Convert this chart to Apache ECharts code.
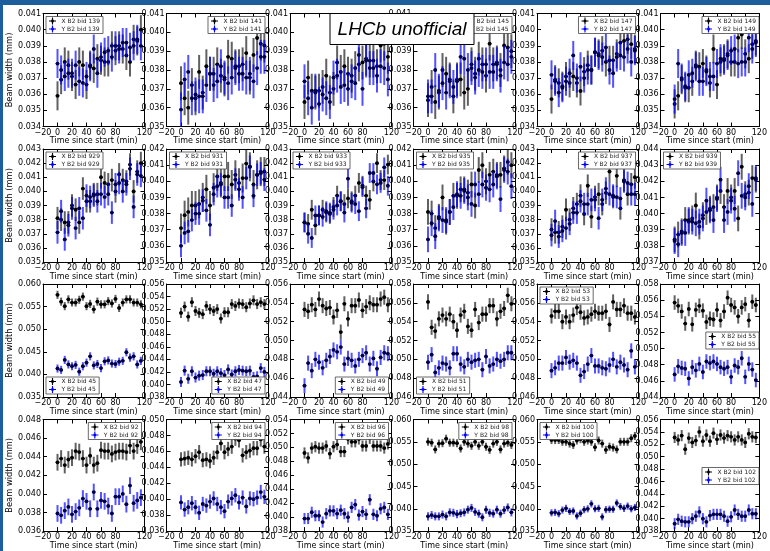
<!DOCTYPE html>
<html>
<head>
<meta charset="utf-8">
<script src="https://cdn.jsdelivr.net/npm/echarts@6/dist/echarts.min.js"></script>
<style>
  html, body { margin: 0; padding: 0; background: #fff; }
  #chart { width: 770px; height: 551px; }
</style>
</head>
<body>
<div id="chart"></div>
<script>
// Time bins (min) shared by every bunch
const times = [0, 5, 10, 15, 20, 25, 30, 35, 40, 45, 50, 55, 60, 65, 70, 75, 80, 85, 90, 95, 100, 105, 110, 115];
const xTicks = [-20, 0, 20, 40, 60, 80, 100, 120];

// Bunch ids, one panel each (rows of six)
const bids = [139, 141, 143, 145, 147, 149,
              929, 931, 933, 935, 937, 939,
              45, 47, 49, 51, 53, 55,
              92, 94, 96, 98, 100, 102];

// Beam widths (mm), X and Y planes
const x139 = [0.0359,0.0369,0.0380,0.0378,0.0371,0.0366,0.0380,0.0378,0.0366,0.0378,0.0376,0.0382,0.0381,0.0380,0.0380,0.0390,0.0387,0.0390,0.0388,0.0384,0.0380,0.0394,0.0393,0.0400];
const y139 = [0.0379,0.0375,0.0371,0.0373,0.0373,0.0378,0.0368,0.0367,0.0371,0.0377,0.0388,0.0373,0.0383,0.0386,0.0387,0.0383,0.0390,0.0388,0.0392,0.0392,0.0389,0.0390,0.0394,0.0390];
const x141 = [0.0373,0.0365,0.0360,0.0372,0.0365,0.0379,0.0368,0.0382,0.0378,0.0378,0.0383,0.0377,0.0375,0.0387,0.0386,0.0382,0.0382,0.0383,0.0389,0.0376,0.0388,0.0397,0.0394,0.0393];
const y141 = [0.0359,0.0375,0.0379,0.0365,0.0367,0.0366,0.0366,0.0372,0.0378,0.0372,0.0374,0.0382,0.0376,0.0373,0.0376,0.0381,0.0378,0.0378,0.0376,0.0378,0.0374,0.0381,0.0387,0.0387];
const x143 = [0.0363,0.0376,0.0369,0.0368,0.0369,0.0371,0.0377,0.0368,0.0370,0.0384,0.0379,0.0382,0.0378,0.0377,0.0381,0.0383,0.0384,0.0386,0.0385,0.0385,0.0382,0.0393,0.0394,0.0387];
const y143 = [0.0374,0.0365,0.0360,0.0369,0.0362,0.0367,0.0365,0.0363,0.0376,0.0377,0.0371,0.0372,0.0370,0.0374,0.0373,0.0388,0.0370,0.0385,0.0381,0.0381,0.0377,0.0382,0.0381,0.0375];
const x145 = [0.0364,0.0371,0.0363,0.0368,0.0380,0.0378,0.0375,0.0366,0.0375,0.0375,0.0368,0.0370,0.0383,0.0378,0.0386,0.0383,0.0377,0.0394,0.0383,0.0384,0.0380,0.0393,0.0392,0.0390];
const y145 = [0.0366,0.0366,0.0380,0.0369,0.0373,0.0368,0.0374,0.0371,0.0374,0.0387,0.0386,0.0380,0.0381,0.0376,0.0380,0.0379,0.0383,0.0379,0.0379,0.0383,0.0377,0.0384,0.0383,0.0387];
const x147 = [0.0357,0.0369,0.0367,0.0365,0.0371,0.0367,0.0371,0.0367,0.0362,0.0374,0.0378,0.0375,0.0386,0.0385,0.0387,0.0380,0.0381,0.0381,0.0385,0.0392,0.0393,0.0394,0.0391,0.0388];
const y147 = [0.0372,0.0368,0.0361,0.0364,0.0368,0.0373,0.0384,0.0370,0.0377,0.0370,0.0375,0.0375,0.0386,0.0384,0.0383,0.0389,0.0375,0.0373,0.0383,0.0384,0.0383,0.0388,0.0380,0.0387];
const x149 = [0.0354,0.0359,0.0369,0.0364,0.0364,0.0368,0.0378,0.0377,0.0379,0.0375,0.0367,0.0388,0.0366,0.0380,0.0382,0.0385,0.0380,0.0380,0.0395,0.0397,0.0385,0.0382,0.0391,0.0393];
const y149 = [0.0357,0.0379,0.0370,0.0365,0.0372,0.0373,0.0377,0.0368,0.0368,0.0374,0.0371,0.0371,0.0379,0.0382,0.0381,0.0384,0.0387,0.0388,0.0379,0.0380,0.0380,0.0395,0.0388,0.0392];

const x929 = [0.0381,0.0380,0.0378,0.0378,0.0390,0.0387,0.0378,0.0402,0.0393,0.0393,0.0398,0.0398,0.0410,0.0406,0.0405,0.0408,0.0400,0.0412,0.0408,0.0407,0.0419,0.0400,0.0414,0.0420];
const y929 = [0.0371,0.0386,0.0366,0.0376,0.0388,0.0374,0.0388,0.0381,0.0397,0.0396,0.0397,0.0393,0.0398,0.0396,0.0398,0.0385,0.0405,0.0406,0.0400,0.0405,0.0416,0.0389,0.0412,0.0411];
const x931 = [0.0371,0.0379,0.0381,0.0385,0.0385,0.0386,0.0390,0.0395,0.0385,0.0396,0.0403,0.0399,0.0403,0.0403,0.0398,0.0404,0.0399,0.0402,0.0411,0.0409,0.0398,0.0404,0.0406,0.0406];
const y931 = [0.0360,0.0368,0.0369,0.0376,0.0380,0.0380,0.0388,0.0382,0.0373,0.0392,0.0397,0.0398,0.0390,0.0390,0.0385,0.0401,0.0395,0.0390,0.0402,0.0409,0.0391,0.0404,0.0405,0.0401];
const x933 = [0.0378,0.0377,0.0387,0.0376,0.0383,0.0387,0.0385,0.0384,0.0389,0.0397,0.0393,0.0391,0.0395,0.0393,0.0397,0.0406,0.0404,0.0397,0.0394,0.0407,0.0420,0.0408,0.0408,0.0419];
const y933 = [0.0378,0.0370,0.0367,0.0383,0.0383,0.0382,0.0386,0.0385,0.0387,0.0390,0.0393,0.0385,0.0409,0.0392,0.0391,0.0386,0.0403,0.0388,0.0413,0.0413,0.0405,0.0406,0.0417,0.0404];
const x935 = [0.0381,0.0380,0.0371,0.0378,0.0390,0.0375,0.0381,0.0391,0.0391,0.0395,0.0395,0.0393,0.0398,0.0385,0.0407,0.0410,0.0400,0.0404,0.0406,0.0404,0.0404,0.0408,0.0412,0.0410];
const y935 = [0.0364,0.0374,0.0366,0.0377,0.0376,0.0376,0.0381,0.0384,0.0392,0.0391,0.0394,0.0390,0.0386,0.0398,0.0392,0.0398,0.0396,0.0395,0.0398,0.0403,0.0389,0.0407,0.0406,0.0397];
const x937 = [0.0373,0.0371,0.0371,0.0375,0.0387,0.0380,0.0388,0.0391,0.0397,0.0384,0.0404,0.0382,0.0396,0.0398,0.0391,0.0399,0.0414,0.0396,0.0411,0.0388,0.0408,0.0398,0.0405,0.0410];
const y937 = [0.0369,0.0379,0.0368,0.0372,0.0374,0.0377,0.0385,0.0385,0.0393,0.0391,0.0391,0.0394,0.0394,0.0381,0.0394,0.0402,0.0398,0.0397,0.0396,0.0395,0.0407,0.0406,0.0398,0.0398];
const x939 = [0.0384,0.0387,0.0389,0.0396,0.0395,0.0397,0.0405,0.0392,0.0399,0.0401,0.0403,0.0404,0.0410,0.0414,0.0404,0.0414,0.0410,0.0414,0.0397,0.0429,0.0412,0.0413,0.0422,0.0421];
const y939 = [0.0383,0.0381,0.0388,0.0388,0.0396,0.0395,0.0394,0.0395,0.0397,0.0408,0.0402,0.0396,0.0409,0.0421,0.0396,0.0401,0.0408,0.0403,0.0425,0.0411,0.0410,0.0417,0.0406,0.0422];

const x45 = [0.0576,0.0561,0.0551,0.0566,0.0559,0.0559,0.0565,0.0572,0.0551,0.0556,0.0544,0.0561,0.0555,0.0555,0.0562,0.0557,0.0567,0.0547,0.0559,0.0566,0.0566,0.0559,0.0559,0.0555];
const y45 = [0.0413,0.0410,0.0432,0.0422,0.0418,0.0421,0.0406,0.0418,0.0426,0.0440,0.0420,0.0423,0.0414,0.0429,0.0431,0.0424,0.0423,0.0428,0.0430,0.0449,0.0437,0.0440,0.0422,0.0430];
const x47 = [0.0514,0.0524,0.0508,0.0531,0.0517,0.0514,0.0512,0.0525,0.0520,0.0517,0.0520,0.0505,0.0515,0.0515,0.0528,0.0525,0.0529,0.0528,0.0523,0.0529,0.0534,0.0528,0.0531,0.0528];
const y47 = [0.0404,0.0422,0.0409,0.0421,0.0411,0.0414,0.0415,0.0421,0.0421,0.0417,0.0421,0.0418,0.0415,0.0424,0.0416,0.0421,0.0423,0.0422,0.0421,0.0422,0.0412,0.0413,0.0426,0.0420];
const x49 = [0.0533,0.0531,0.0538,0.0533,0.0544,0.0537,0.0534,0.0535,0.0525,0.0532,0.0509,0.0539,0.0523,0.0537,0.0537,0.0543,0.0532,0.0536,0.0540,0.0538,0.0538,0.0544,0.0546,0.0538];
const y49 = [0.0452,0.0476,0.0468,0.0480,0.0477,0.0471,0.0479,0.0483,0.0490,0.0488,0.0493,0.0475,0.0481,0.0479,0.0473,0.0480,0.0484,0.0487,0.0475,0.0481,0.0470,0.0482,0.0487,0.0486];
const x51 = [0.0561,0.0534,0.0530,0.0543,0.0547,0.0543,0.0548,0.0540,0.0531,0.0547,0.0551,0.0535,0.0531,0.0553,0.0539,0.0548,0.0548,0.0557,0.0557,0.0543,0.0551,0.0554,0.0568,0.0559];
const y51 = [0.0497,0.0505,0.0486,0.0491,0.0496,0.0495,0.0491,0.0506,0.0506,0.0495,0.0492,0.0500,0.0497,0.0499,0.0500,0.0489,0.0503,0.0493,0.0495,0.0500,0.0498,0.0500,0.0507,0.0507];
const x53 = [0.0546,0.0551,0.0551,0.0540,0.0545,0.0540,0.0547,0.0555,0.0550,0.0544,0.0545,0.0548,0.0551,0.0549,0.0549,0.0551,0.0537,0.0561,0.0553,0.0553,0.0557,0.0549,0.0549,0.0545];
const y53 = [0.0488,0.0491,0.0496,0.0496,0.0502,0.0497,0.0499,0.0496,0.0483,0.0487,0.0495,0.0504,0.0493,0.0493,0.0491,0.0490,0.0494,0.0500,0.0492,0.0497,0.0494,0.0489,0.0509,0.0492];
const x55 = [0.0557,0.0553,0.0546,0.0531,0.0549,0.0530,0.0548,0.0553,0.0547,0.0533,0.0537,0.0536,0.0548,0.0535,0.0546,0.0563,0.0554,0.0551,0.0540,0.0551,0.0555,0.0535,0.0558,0.0554];
const y55 = [0.0468,0.0478,0.0476,0.0475,0.0463,0.0477,0.0473,0.0481,0.0471,0.0484,0.0482,0.0484,0.0481,0.0477,0.0475,0.0477,0.0465,0.0479,0.0477,0.0488,0.0465,0.0481,0.0474,0.0461];

const x92 = [0.0434,0.0438,0.0431,0.0437,0.0439,0.0446,0.0445,0.0438,0.0431,0.0441,0.0431,0.0433,0.0447,0.0446,0.0446,0.0443,0.0445,0.0446,0.0446,0.0445,0.0452,0.0446,0.0452,0.0456];
const y92 = [0.0379,0.0377,0.0382,0.0386,0.0378,0.0381,0.0385,0.0395,0.0392,0.0384,0.0402,0.0384,0.0393,0.0392,0.0387,0.0379,0.0397,0.0397,0.0400,0.0389,0.0409,0.0390,0.0393,0.0396];
const x94 = [0.0450,0.0451,0.0452,0.0450,0.0454,0.0459,0.0449,0.0450,0.0448,0.0452,0.0459,0.0470,0.0459,0.0463,0.0466,0.0476,0.0474,0.0455,0.0459,0.0461,0.0464,0.0464,0.0475,0.0466];
const y94 = [0.0396,0.0387,0.0390,0.0395,0.0390,0.0383,0.0394,0.0392,0.0397,0.0401,0.0394,0.0390,0.0385,0.0397,0.0401,0.0405,0.0396,0.0402,0.0391,0.0401,0.0400,0.0402,0.0409,0.0403];
const x96 = [0.0492,0.0485,0.0499,0.0501,0.0499,0.0499,0.0502,0.0491,0.0501,0.0504,0.0494,0.0494,0.0512,0.0508,0.0508,0.0512,0.0502,0.0502,0.0513,0.0502,0.0502,0.0502,0.0499,0.0505];
const y96 = [0.0398,0.0398,0.0407,0.0402,0.0402,0.0393,0.0405,0.0409,0.0409,0.0405,0.0410,0.0405,0.0400,0.0414,0.0418,0.0403,0.0408,0.0404,0.0425,0.0404,0.0402,0.0412,0.0414,0.0404];
const x98 = [0.0550,0.0548,0.0533,0.0546,0.0547,0.0557,0.0548,0.0548,0.0547,0.0535,0.0550,0.0546,0.0541,0.0550,0.0541,0.0550,0.0539,0.0532,0.0546,0.0550,0.0533,0.0546,0.0548,0.0543];
const y98 = [0.0383,0.0386,0.0383,0.0383,0.0387,0.0383,0.0392,0.0391,0.0388,0.0390,0.0392,0.0398,0.0402,0.0393,0.0389,0.0381,0.0398,0.0391,0.0389,0.0398,0.0389,0.0397,0.0403,0.0392];
const x100 = [0.0554,0.0554,0.0554,0.0550,0.0550,0.0546,0.0543,0.0553,0.0556,0.0550,0.0553,0.0550,0.0538,0.0553,0.0546,0.0532,0.0539,0.0537,0.0533,0.0550,0.0550,0.0550,0.0558,0.0563];
const y100 = [0.0391,0.0392,0.0389,0.0397,0.0401,0.0394,0.0395,0.0384,0.0390,0.0398,0.0400,0.0411,0.0400,0.0401,0.0382,0.0398,0.0399,0.0399,0.0413,0.0405,0.0401,0.0406,0.0400,0.0403];
const x102 = [0.0531,0.0527,0.0534,0.0512,0.0530,0.0523,0.0526,0.0540,0.0525,0.0535,0.0525,0.0538,0.0528,0.0535,0.0530,0.0534,0.0532,0.0527,0.0532,0.0527,0.0523,0.0537,0.0532,0.0531];
const y102 = [0.0392,0.0399,0.0396,0.0395,0.0395,0.0400,0.0404,0.0411,0.0400,0.0395,0.0405,0.0407,0.0407,0.0407,0.0404,0.0396,0.0403,0.0414,0.0407,0.0404,0.0404,0.0414,0.0408,0.0408];

const xWidths = [x139, x141, x143, x145, x147, x149, x929, x931, x933, x935, x937, x939,
                 x45, x47, x49, x51, x53, x55, x92, x94, x96, x98, x100, x102];
const yWidths = [y139, y141, y143, y145, y147, y149, y929, y931, y933, y935, y937, y939,
                 y45, y47, y49, y51, y53, y55, y92, y94, y96, y98, y100, y102];

// Uncertainty per panel (mm)
const errX = [0.0009,0.0009,0.0009,0.0009,0.0009,0.0009, 0.0008,0.0009,0.0007,0.0008,0.0008,0.0008,
              0.0009,0.0008,0.0008,0.0008,0.0008,0.0009, 0.0009,0.0009,0.0008,0.0009,0.0009,0.0009];
const errY = [0.0009,0.0009,0.0009,0.0009,0.0009,0.0009, 0.0008,0.0007,0.0007,0.0008,0.0008,0.0008,
              0.0009,0.0008,0.0008,0.0008,0.0008,0.0009, 0.0009,0.0009,0.0008,0.0009,0.0008,0.0009];
const tHalfBin = 2.5;

// y-axis ranges and tick steps (mm)
const yMin  = [0.034,0.035,0.035,0.035,0.034,0.034, 0.035,0.035,0.035,0.035,0.035,0.037,
               0.035,0.038,0.044,0.046,0.046,0.044, 0.036,0.036,0.038,0.035,0.035,0.038];
const yMax  = [0.041,0.041,0.041,0.041,0.041,0.041, 0.043,0.042,0.043,0.042,0.043,0.044,
               0.060,0.056,0.056,0.058,0.058,0.058, 0.048,0.050,0.054,0.060,0.060,0.056];
const yStep = [0.001,0.001,0.001,0.001,0.001,0.001, 0.001,0.001,0.001,0.001,0.001,0.001,
               0.005,0.002,0.002,0.002,0.002,0.002, 0.002,0.002,0.002,0.005,0.005,0.002];

// legend corner per panel
const legendPos = ['ul','ur','ur','ur','ur','ur', 'ul','ul','ul','ul','ur','ul',
                   'll','lr','lr','ll','ul','cr', 'ur','ur','ur','ur','ul','cr'];

const W = 770, H = 551;
const colLeft0 = 43, colStep = 123.5, plotW = 101.5;
const rowTops = [13.5, 149, 284, 419.5], plotH = 113;
const FONT = 'DejaVu Sans';
const crossIcon = 'path://M0,4.2H10V5.8H0Z M4.2,0H5.8V10H4.2Z M3.2,3.2H6.8V6.8H3.2Z';

// axes work in micrometres so tick steps are whole numbers
const toUm = v => v * 1000;

function errorBars(barColor, dotColor) {
  return function (params, api) {
    const t = api.value(0), v = api.value(1), e = api.value(2);
    const c = api.coord([t, v]);
    const hi = api.coord([t, v + e]);
    const lo = api.coord([t, v - e]);
    const l = api.coord([t - tHalfBin, v]);
    const r = api.coord([t + tHalfBin, v]);
    return {
      type: 'group',
      children: [
        { type: 'line', shape: { x1: c[0], y1: hi[1], x2: c[0], y2: lo[1] },
          style: { stroke: barColor, lineWidth: 2 } },
        { type: 'line', shape: { x1: l[0], y1: c[1], x2: r[0], y2: c[1] },
          style: { stroke: dotColor, lineWidth: 1.2 } },
        { type: 'circle', shape: { cx: c[0], cy: c[1], r: 1.9 },
          style: { fill: dotColor } }
      ]
    };
  };
}

const grid = [], xAxis = [], yAxis = [], series = [], legend = [];
const axisLine = { show: true, onZero: false, lineStyle: { color: '#000', width: 1 } };
const tickIn = { show: true, inside: true, length: 4, lineStyle: { color: '#000', width: 1 } };

bids.forEach((bid, i) => {
  const row = Math.floor(i / 6), col = i % 6;
  const gl = colLeft0 + col * colStep, gt = rowTops[row];
  grid.push({ left: gl, top: gt, width: plotW, height: plotH });

  const common = { gridIndex: i, type: 'value', min: xTicks[0], max: xTicks[xTicks.length - 1], interval: 20,
                   axisLine, axisTick: tickIn, splitLine: { show: false } };
  xAxis.push(Object.assign({}, common, {
    position: 'bottom',
    name: 'Time since start (min)', nameLocation: 'middle', nameGap: 10,
    nameTextStyle: { fontSize: 8, fontFamily: FONT, color: '#000' },
    axisLabel: { show: true, margin: 2, fontSize: 8, fontFamily: FONT, color: '#000', interval: 0,
                 showMinLabel: true, showMaxLabel: true, hideOverlap: false,
                 formatter: v => (v < 0 ? '\u2212' + Math.abs(v) : String(v)) }
  }));
  xAxis.push(Object.assign({}, common, { position: 'top', axisLabel: { show: false } }));

  const lo = Math.round(toUm(yMin[i])), hi = Math.round(toUm(yMax[i])), st = Math.round(toUm(yStep[i]));
  const yCommon = { gridIndex: i, type: 'value', min: lo, max: hi, interval: st,
                    axisLine, axisTick: tickIn, splitLine: { show: false } };
  const left = Object.assign({}, yCommon, {
    position: 'left',
    axisLabel: { show: true, margin: 2, fontSize: 8, fontFamily: FONT, color: '#000', interval: 0,
                 showMinLabel: true, showMaxLabel: true, hideOverlap: false,
                 formatter: v => (v / 1000).toFixed(3) }
  });
  if (col === 0) {
    Object.assign(left, { name: 'Beam width (mm)', nameLocation: 'middle', nameGap: 24,
                          nameTextStyle: { fontSize: 8.3, fontFamily: FONT, color: '#000' } });
  }
  yAxis.push(left);
  yAxis.push(Object.assign({}, yCommon, { position: 'right', axisLabel: { show: false } }));

  const nameX = 'X B2 bid ' + bid, nameY = 'Y B2 bid ' + bid;
  series.push({
    type: 'custom', name: nameX, xAxisIndex: 2 * i, yAxisIndex: 2 * i,
    itemStyle: { color: '#000' },
    renderItem: errorBars('rgba(0,0,0,0.62)', '#000'),
    encode: { x: 0, y: 1 },
    data: times.map((t, k) => [t, toUm(xWidths[i][k]), toUm(errX[i])])
  });
  series.push({
    type: 'custom', name: nameY, xAxisIndex: 2 * i, yAxisIndex: 2 * i,
    itemStyle: { color: '#0000ff' },
    renderItem: errorBars('rgba(0,0,255,0.68)', '#00004a'),
    encode: { x: 0, y: 1 },
    data: times.map((t, k) => [t, toUm(yWidths[i][k]), toUm(errY[i])])
  });

  const lg = {
    data: [
      { name: nameX, icon: crossIcon, itemStyle: { color: '#000' } },
      { name: nameY, icon: crossIcon, itemStyle: { color: '#0000ff' } }
    ],
    orient: 'vertical', itemWidth: 8, itemHeight: 7, itemGap: 1,
    padding: [1, 3, 1, 3], backgroundColor: '#fff', borderColor: '#444', borderWidth: 0.8,
    textStyle: { fontSize: 6, fontFamily: FONT, color: '#222' },
    selectedMode: false, z: 5
  };
  const pos = legendPos[i];
  const rightGap = W - (gl + plotW) + 3;
  if (pos === 'ul') { lg.left = gl + 3; lg.top = gt + 3; }
  else if (pos === 'ur') { lg.right = rightGap; lg.top = gt + 3; }
  else if (pos === 'll') { lg.left = gl + 3; lg.bottom = H - (gt + plotH) + 3; }
  else if (pos === 'lr') { lg.right = rightGap; lg.bottom = H - (gt + plotH) + 3; }
  else { lg.right = rightGap; lg.top = gt + plotH / 2 - 8.5; }
  legend.push(lg);
});

const chart = echarts.init(document.getElementById('chart'), null, { renderer: 'canvas' });
chart.setOption({
  animation: false,
  backgroundColor: '#fff',
  grid, xAxis, yAxis, series, legend,
  graphic: [
    { type: 'rect', z: 100, shape: { x: 0, y: 0, width: W, height: 5 }, style: { fill: '#1d5f9c' } },
    { type: 'rect', z: 100, shape: { x: 0, y: 0, width: 3, height: H }, style: { fill: '#1d5f9c' } },
    { type: 'rect', z: 100, shape: { x: 330, y: 13.5, width: 144, height: 31 },
      style: { fill: '#fff', stroke: '#000', lineWidth: 1 } },
    { type: 'text', z: 101, x: 402, y: 30,
      style: { text: 'LHCb unofficial', fill: '#000', font: 'italic 19px "Liberation Sans"',
               align: 'center', verticalAlign: 'middle' } }
  ]
});
</script>
</body>
</html>
